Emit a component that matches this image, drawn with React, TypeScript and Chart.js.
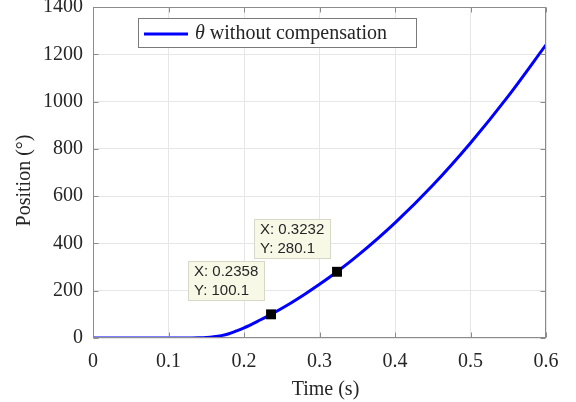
import React, { useEffect, useRef } from "react";
import { Chart, registerables } from "chart.js";
Chart.register(...registerables);

// ---- data ----
const timeS = [0, 0.05, 0.1, 0.12, 0.13, 0.14, 0.15, 0.16, 0.17, 0.18, 0.19, 0.2, 0.22, 0.2358, 0.26, 0.28, 0.3, 0.3232, 0.35, 0.4, 0.45, 0.5, 0.55, 0.6];
const positionDeg = [0, 0, 0, 0, 0.2, 0.7, 2, 5, 10, 18, 30, 43, 74, 100.1, 144, 184, 227, 280.1, 347, 487, 646, 825, 1023, 1240];
const markerTimes = [0.2358, 0.3232];
const markerValues = [100.1, 280.1];
const xTicks = [0, 0.1, 0.2, 0.3, 0.4, 0.5, 0.6];
const xTickLabels = ["0", "0.1", "0.2", "0.3", "0.4", "0.5", "0.6"];
const yTicks = [0, 200, 400, 600, 800, 1000, 1200, 1400];
const legendSymbol = "\u03b8";
const legendText = " without compensation";
const xTitle = "Time (s)";
const yTitle = "Position (\u00b0)";

const SERIF = "'Liberation Serif', 'Times New Roman', serif";
const SANS = "'Liberation Sans', Arial, sans-serif";
const AXIS_GRAY = "#8c8c8c";
const TEXT = "#262626";

const deco = {
  id: "deco",
  afterDatasetsDraw(chart: any) {
    const { ctx, chartArea: a, scales } = chart;
    const x = scales.x;
    const y = scales.y;
    ctx.save();

    // datatips
    for (let i = 0; i < markerTimes.length; i++) {
      const px = x.getPixelForValue(markerTimes[i]);
      const py = y.getPixelForValue(markerValues[i]);
      const w = 77;
      const h = 40;
      const right = Math.round(px - 6);
      const bottom = Math.round(py - 13);
      const left = right - w;
      const top = bottom - h;
      ctx.fillStyle = "#f8f8e7";
      ctx.fillRect(left, top, w, h);
      ctx.strokeStyle = "#d8d8c8";
      ctx.lineWidth = 1;
      ctx.strokeRect(left + 0.5, top + 0.5, w - 1, h - 1);
      ctx.fillStyle = TEXT;
      ctx.font = `15px ${SANS}`;
      ctx.textBaseline = "middle";
      ctx.textAlign = "left";
      ctx.fillText(`X: ${markerTimes[i]}`, left + 6, top + 11);
      ctx.fillText(`Y: ${markerValues[i]}`, left + 6, top + 30);
    }

    // box
    ctx.strokeStyle = AXIS_GRAY;
    ctx.lineWidth = 1;
    const L = Math.round(a.left) + 0.5;
    const R = Math.round(a.right) - 0.5;
    const T = Math.round(a.top) + 0.5;
    const B = Math.round(a.bottom) - 0.5;
    ctx.strokeRect(L, T, R - L, B - T);
    // inward ticks
    ctx.beginPath();
    xTicks.forEach((v) => {
      const px = Math.round(x.getPixelForValue(v)) + 0.5;
      ctx.moveTo(px, B);
      ctx.lineTo(px, B - 5);
      ctx.moveTo(px, T);
      ctx.lineTo(px, T + 5);
    });
    yTicks.forEach((v) => {
      const py = Math.round(y.getPixelForValue(v)) + 0.5;
      ctx.moveTo(L, py);
      ctx.lineTo(L + 5, py);
      ctx.moveTo(R, py);
      ctx.lineTo(R - 5, py);
    });
    ctx.stroke();

    // legend
    const lx = a.left + 45;
    const ly = a.top + 11;
    const lw = 279;
    const lh = 30;
    ctx.fillStyle = "#ffffff";
    ctx.fillRect(lx, ly, lw, lh);
    ctx.strokeStyle = "#7a7a7a";
    ctx.lineWidth = 1;
    ctx.strokeRect(lx + 0.5, ly + 0.5, lw - 1, lh - 1);
    ctx.strokeStyle = "#0000ff";
    ctx.lineWidth = 3;
    ctx.beginPath();
    ctx.moveTo(lx + 6, ly + 16);
    ctx.lineTo(lx + 50, ly + 16);
    ctx.stroke();
    ctx.fillStyle = TEXT;
    ctx.textBaseline = "middle";
    ctx.textAlign = "left";
    ctx.font = `italic 20px ${SERIF}`;
    ctx.fillText(legendSymbol, lx + 57, ly + 16);
    const tw = ctx.measureText(legendSymbol).width;
    ctx.font = `20px ${SERIF}`;
    ctx.fillText(legendText, lx + 57 + tw, ly + 16);

    // axis titles
    ctx.font = `20px ${SERIF}`;
    ctx.textAlign = "center";
    ctx.textBaseline = "middle";
    ctx.fillText(xTitle, (a.left + a.right) / 2 + 6, a.bottom + 52);
    ctx.save();
    ctx.translate(a.left - 68, (a.top + a.bottom) / 2 + 8);
    ctx.rotate(-Math.PI / 2);
    ctx.fillText(yTitle, 0, 0);
    ctx.restore();

    ctx.restore();
  },
};

export default function App() {
  const ref = useRef<HTMLCanvasElement | null>(null);
  useEffect(() => {
    document.body.style.margin = "0";
    const canvas = ref.current;
    if (!canvas) return;
    const chart = new Chart(canvas, {
      type: "line",
      data: {
        datasets: [
          {
            label: "markers",
            data: markerTimes.map((t, i) => ({ x: t, y: markerValues[i] })),
            showLine: false,
            pointStyle: "rect",
            pointRadius: 7,
            pointBackgroundColor: "#000000",
            pointBorderColor: "#000000",
            pointBorderWidth: 0,
            order: 0,
          },
          {
            label: "theta without compensation",
            data: timeS.map((t, i) => ({ x: t, y: positionDeg[i] })),
            borderColor: "#0000ff",
            borderWidth: 3,
            pointRadius: 0,
            cubicInterpolationMode: "monotone",
            fill: false,
            order: 1,
          },
        ],
      },
      options: {
        responsive: false,
        animation: false,
        devicePixelRatio: 1,
        layout: { padding: { left: 0, right: 30, top: 7, bottom: 0 } },
        plugins: { legend: { display: false }, tooltip: { enabled: false } },
        scales: {
          x: {
            type: "linear",
            min: 0,
            max: 0.6,
            afterBuildTicks: (s: any) => {
              s.ticks = xTicks.map((v) => ({ value: v }));
            },
            afterFit: (s: any) => {
              s.height = 64;
              s.paddingLeft = 0;
              s.paddingRight = 0;
            },
            ticks: {
              padding: 12,
              maxRotation: 0,
              autoSkip: false,
              color: TEXT,
              font: { family: SERIF, size: 20 },
              callback: (_v: any, i: number) => xTickLabels[i],
            },
            grid: { color: "#e6e6e6", drawTicks: false },
            border: { display: false },
          },
          y: {
            type: "linear",
            min: 0,
            max: 1400,
            afterBuildTicks: (s: any) => {
              s.ticks = yTicks.map((v) => ({ value: v }));
            },
            afterFit: (s: any) => {
              s.width = 93;
              s.paddingTop = 0;
              s.paddingBottom = 0;
            },
            ticks: {
              padding: 10,
              autoSkip: false,
              color: TEXT,
              font: { family: SERIF, size: 20 },
              callback: (v: any) => String(v),
            },
            grid: { color: "#e6e6e6", drawTicks: false },
            border: { display: false },
          },
        },
      },
      plugins: [deco],
    } as any);
    return () => chart.destroy();
  }, []);
  return (
    <div style={{ width: 576, height: 402, position: "relative", background: "#fff" }}>
      <canvas ref={ref} width={576} height={402} />
    </div>
  );
}
